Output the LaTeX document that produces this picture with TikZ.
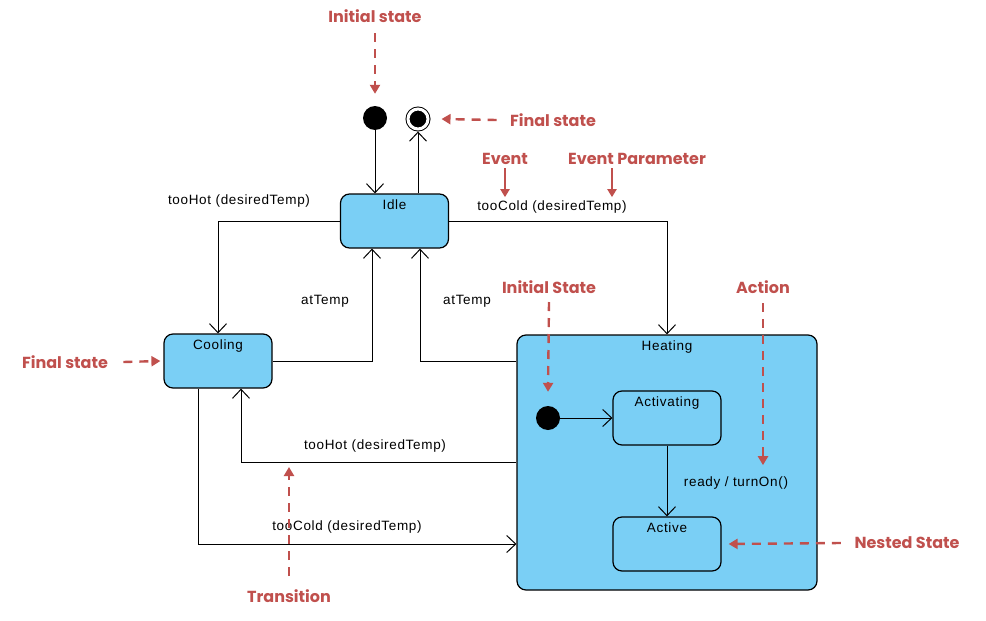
\documentclass[tikz,border=0pt]{standalone}
\usepackage{fontspec}
\setmainfont{Liberation Sans}[LetterSpace=5]
\newfontfamily\notefont{Poppins}
\usetikzlibrary{arrows.meta}

\definecolor{notered}{RGB}{192,80,77}
\definecolor{stateblue}{RGB}{122,207,245}

\begin{document}
\begin{tikzpicture}[x=1pt,y=-1pt,
    state/.style={draw,rounded corners=9pt,fill=stateblue,line width=1.2pt,
      minimum width=108pt,minimum height=54pt,inner sep=0pt},
    statename/.style={below=6pt,inner sep=0pt,font=\fontsize{13.5}{16}\selectfont},
    initdot/.style={circle,fill=black,minimum size=24pt,inner sep=0pt},
    finaldot/.style={circle,draw,fill=black,line width=1pt,double=white,
      double distance=3pt,minimum size=20pt,inner sep=0pt,outer sep=2.5pt},
    trans/.style={line width=1pt,-{Straight Barb[length=9pt,width=17pt]}},
    translabel/.style={font=\fontsize{13.5}{16}\selectfont},
    note/.style={text=notered,font=\notefont\bfseries\fontsize{16}{18}\selectfont},
    notearrow/.style={draw=notered,line width=2.4pt,dash pattern=on 9pt off 7pt,
      -{Triangle[length=9pt,width=10pt]}},
    eventarrow/.style={draw=notered,line width=2pt,-{Triangle[length=8pt,width=9pt]}}]

  \useasboundingbox (0,0) rectangle (986,621);

  % States
  \node[initdot] (init) at (375,118) {};
  \node[finaldot] (final) at (418,119) {};
  \node[state,label={[statename]north:Idle}] (idle) at (394.5,221) {};
  \node[state,label={[statename]north:Cooling}] (cooling) at (218,361) {};
  \node[state,minimum width=300pt,minimum height=255pt,
    label={[statename]north:Heating}] (heating) at (667,462.5) {};
  \node[initdot] (subinit) at (548,418) {};
  \node[state,label={[statename]north:Activating}] (activating) at (667,418) {};
  \node[state,label={[statename]north:Active}] (active) at (667,544) {};

  % Transitions
  \draw[trans] (init.south) -- (init.south |- idle.north);
  \draw[trans] ([xshift=23.5pt]idle.north) -- (final.south);
  \draw[trans] (idle.west) -| (cooling.north);
  \draw[trans] (idle.east) -| (heating.north);
  \draw[trans] (cooling.east) -| ([xshift=-22.5pt]idle.south);
  \draw[trans] ([yshift=-27pt]heating.north west) -| ([xshift=25.5pt]idle.south);
  \draw[trans] (heating.west) -| ([xshift=23pt]cooling.south);
  \draw[trans] ([xshift=-20pt]cooling.south) |- ([yshift=-81.5pt]heating.west);
  \draw[trans] (subinit.east) -- (activating.west);
  \draw[trans] (activating.south) -- (active.north);

  % Transition labels
  \node[translabel] (hotIdle) at (239,201) {tooHot (desiredTemp)};
  \node[translabel] (coldIdle) at (552,207) {tooCold (desiredTemp)};
  \node[translabel] (tempCool) at (325,301) {atTemp};
  \node[translabel] (tempHeat) at (467,301) {atTemp};
  \node[translabel] (hotHeat) at (375,446) {tooHot (desiredTemp)};
  \node[translabel] (coldCool) at (347,527) {tooCold (desiredTemp)};
  \node[translabel] (ready) at (736,483) {ready / turnOn()};

  % Notes
  \node[note] (noteInit) at (375,16) {Initial state};
  \node[note] (noteFinal) at (553,120) {Final state};
  \node[note] (noteEvent) at (505,159) {Event};
  \node[note] (noteParam) at (637,159) {Event Parameter};
  \node[note] (noteSub) at (549,287) {Initial State};
  \node[note] (noteAction) at (763,287) {Action};
  \node[note] (noteCool) at (65,362) {Final state};
  \node[note] (noteTrans) at (289,596) {Transition};
  \node[note] (noteNested) at (907,543) {Nested State};
  \coordinate (transPt) at (289,467);

  \draw[notearrow] ([yshift=-7pt]noteInit.south) -- ([yshift=12pt]init.north);
  \draw[notearrow] ([xshift=-10pt]noteFinal.west) -- ([xshift=11pt]final.east);
  \draw[eventarrow] (noteEvent.south) -- (noteEvent.south |- coldIdle.north);
  \draw[eventarrow] ([xshift=-25pt]noteParam.south) -- ([xshift=-25pt]noteParam.south |- coldIdle.north);
  \draw[notearrow] ([yshift=-5pt]noteSub.south) -- ([yshift=14pt]subinit.north);
  \draw[notearrow] ([yshift=-6pt]noteAction.south) -- ([yshift=8pt]noteAction.south |- ready.north);
  \draw[notearrow] ([xshift=12pt]noteCool.east) -- ([xshift=-3pt]cooling.west);
  \draw[notearrow] ([yshift=10pt]noteTrans.north) -- (transPt);
  \draw[notearrow] ([xshift=-10pt]noteNested.west) -- ([xshift=7pt]active.east);

\end{tikzpicture}
\end{document}
